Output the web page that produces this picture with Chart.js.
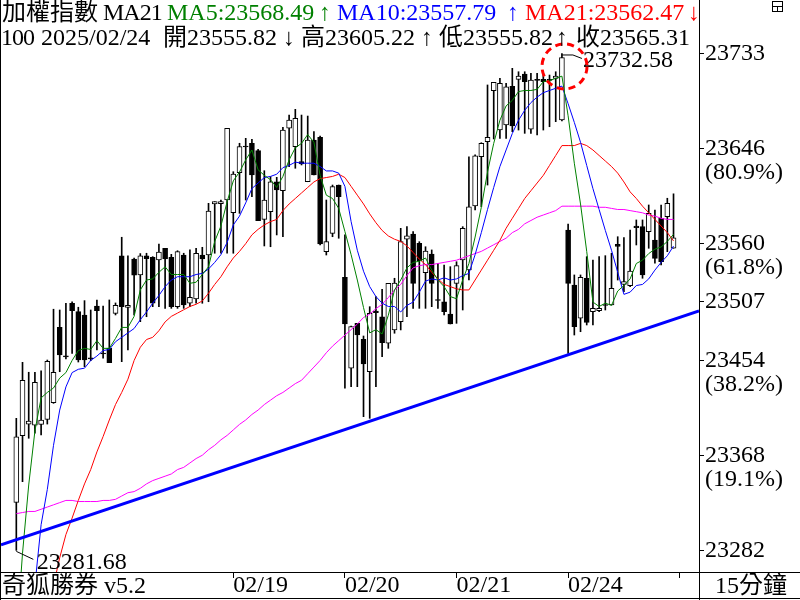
<!DOCTYPE html>
<html>
<head>
<meta charset="utf-8">
<script src="https://cdn.jsdelivr.net/npm/chart.js@4.4.1/dist/chart.umd.min.js"></script>
<style>
  body { margin: 0; background: #fff; }
  #wrap { position: relative; width: 800px; height: 600px; overflow: hidden; background: #fff; }
  #c { position: absolute; left: 0; top: 0; }
  .t { position: absolute; font-family: "Liberation Serif", "Noto Sans CJK TC", serif; font-size: 24px; line-height: 24px; white-space: pre; color: #000; }
</style>
</head>
<body>
<div id="wrap">
  <canvas id="c" width="800" height="600"></canvas>
  <!-- 標題列 -->
  <div class="t" style="left:2px;top:0">加權指數</div>
  <div class="t" style="left:103px;top:0;letter-spacing:-1px">MA21</div>
  <div class="t" style="left:167px;top:0;color:#008000">MA5:23568.49</div>
  <div class="t" style="left:319px;top:0;color:#008000">↑</div>
  <div class="t" style="left:337px;top:0;color:#0000FF">MA10:23557.79</div>
  <div class="t" style="left:507px;top:0;color:#0000FF">↑</div>
  <div class="t" style="left:525px;top:0;color:#FF0000">MA21:23562.47</div>
  <div class="t" style="left:688px;top:0;color:#FF0000">↓</div>

  <div class="t" style="left:1px;top:25px;letter-spacing:-1px">100</div>
  <div class="t" style="left:41px;top:25px">2025/02/24</div>
  <div class="t" style="left:163px;top:25px">開23555.82</div>
  <div class="t" style="left:283px;top:25px">↓</div>
  <div class="t" style="left:301px;top:25px">高23605.22</div>
  <div class="t" style="left:421px;top:25px">↑</div>
  <div class="t" style="left:439px;top:25px">低23555.82</div>
  <div class="t" style="left:556px;top:25px">↑</div>
  <div class="t" style="left:576px;top:25px">收23565.31</div>

  <!-- 底部 -->
  <div class="t" style="left:2px;top:573px">奇狐勝券 v5.2</div>
  <div class="t" style="left:715px;top:573px">15分鐘</div>
</div>
<script>
// 15分K 資料
const opens = [23325.3,23385.8,23396.3,23395.4,23396.0,23400.6,23415.7,23484.1,23458.1,23505.9,
  23498.3,23495.3,23456.3,23503.4,23460.8,23465.3,23496.8,23548.9,23502.2,23546.1,
  23531.6,23548.9,23547.6,23545.2,23555.8,23547.6,23502.8,23549.7,23505.9,23509.8,
  23549.7,23549.7,23596.0,23596.3,23599.6,23588.1,23624.4,23648.6,23651.1,23644.4,
  23582.1,23589.0,23616.2,23608.1,23664.7,23648.0,23634.4,23616.2,23654.1,23656.5,
  23552.7,23569.4,23613.2,23529.5,23446.9,23487.7,23473.2,23443.8,23498.9,23493.7,
  23469.6,23481.7,23489.2,23564.0,23568.8,23560.3,23533.6,23550.6,23509.3,23507.1,
  23496.2,23524.0,23545.2,23536.1,23594.2,23638.9,23652.5,23698.8,23663.1,23667.7,
  23702.8,23709.1,23713.9,23663.8,23709.0,23709.1,23709.0,23710.0,23672.2,23572.4,
  23522.5,23492.3,23528.6,23498.3,23499.2,23504.8,23504.3,23559.4,23523.1,23521.8,
  23576.0,23575.4,23570.9,23563.3,23583.0,23584.5,23555.82];
const highs = [23401.5,23452.3,23443.3,23443.3,23444.5,23454.4,23500.5,23499.8,23505.9,23507.3,
  23502.3,23508.3,23499.8,23508.9,23503.4,23508.9,23506.2,23565.8,23548.9,23547.0,
  23551.0,23551.3,23548.2,23559.7,23555.8,23550.3,23553.6,23551.3,23554.3,23555.8,
  23556.7,23596.6,23598.1,23599.6,23664.7,23625.3,23651.1,23655.6,23654.7,23645.6,
  23626.2,23620.8,23620.2,23665.6,23676.7,23681.9,23676.7,23675.8,23661.6,23657.7,
  23599.6,23613.2,23613.2,23567.9,23485.3,23487.7,23476.2,23502.8,23511.9,23518.6,
  23524.0,23528.6,23573.9,23575.4,23570.9,23561.8,23557.2,23554.3,23542.2,23540.6,
  23539.1,23543.6,23575.4,23638.9,23640.5,23651.6,23704.0,23706.4,23710.0,23705.5,
  23719.1,23716.0,23716.0,23714.6,23714.6,23714.6,23713.0,23716.0,23732.58,23577.8,
  23531.6,23531.6,23548.2,23545.2,23548.2,23549.1,23551.3,23566.3,23565.4,23572.4,
  23581.5,23581.5,23595.1,23590.5,23595.1,23601.2,23605.22];
const lows = [23281.68,23344.0,23383.4,23388.0,23386.5,23396.3,23415.1,23443.8,23455.4,23460.5,
  23452.6,23448.4,23453.8,23463.5,23456.0,23452.0,23495.3,23452.9,23463.5,23495.3,
  23489.2,23493.7,23502.8,23502.8,23501.3,23501.3,23501.3,23501.3,23502.8,23505.9,
  23505.9,23507.3,23551.3,23551.3,23551.3,23551.3,23587.5,23599.6,23602.6,23580.8,
  23557.9,23557.2,23567.9,23566.3,23629.8,23628.4,23631.4,23616.2,23622.3,23558.8,
  23549.7,23566.3,23564.9,23428.8,23430.2,23430.2,23403.0,23401.5,23430.2,23457.4,
  23465.0,23478.7,23481.7,23493.7,23501.3,23501.3,23501.3,23502.8,23501.3,23495.3,
  23487.1,23487.7,23499.8,23527.0,23590.5,23593.5,23613.2,23655.0,23655.6,23655.6,
  23661.6,23663.1,23660.1,23660.1,23658.6,23663.1,23666.1,23670.7,23671.3,23460.5,
  23477.1,23480.1,23486.2,23486.2,23498.3,23499.8,23504.3,23527.0,23516.4,23520.9,
  23558.8,23528.6,23555.8,23542.2,23540.6,23552.7,23555.82];
const closes = [23384.8,23436.0,23399.0,23434.2,23399.9,23453.2,23443.3,23459.0,23457.2,23499.2,
  23454.4,23454.4,23455.4,23499.2,23459.9,23452.0,23504.1,23502.8,23504.1,23531.3,
  23548.9,23546.4,23505.9,23552.4,23546.1,23502.8,23552.7,23504.3,23511.3,23551.3,
  23546.1,23589.6,23598.1,23598.1,23664.7,23623.2,23648.0,23647.7,23622.3,23580.8,
  23599.6,23616.2,23608.7,23663.1,23672.2,23673.8,23632.3,23654.1,23622.3,23559.7,
  23561.8,23611.7,23602.6,23487.1,23484.7,23477.1,23450.8,23496.8,23497.3,23470.1,
  23524.0,23524.3,23561.8,23567.0,23524.0,23544.5,23553.3,23524.0,23508.4,23498.3,
  23487.1,23540.0,23573.9,23593.5,23639.6,23651.1,23656.5,23706.4,23705.5,23702.2,
  23666.8,23712.1,23707.0,23708.5,23708.1,23707.0,23708.1,23712.1,23728.9,23524.0,
  23484.7,23529.5,23488.6,23501.3,23501.3,23503.9,23519.5,23557.6,23525.5,23535.2,
  23574.5,23531.6,23587.5,23546.7,23543.6,23596.6,23565.31];

// 均線
const ma5 = [23200,23279,23341,23390,23420,23425,23429,23438,23443,23454,
  23463,23465,23464,23472,23465,23465,23474,23484,23484,23494,
  23518,23527,23528,23534,23539,23532,23532,23532,23524,23525,
  23532,23539,23562,23576,23598,23617,23625,23636,23645,23627,
  23622,23618,23611,23621,23636,23647,23651,23659,23652,23622,
  23604,23601,23592,23571,23550,23527,23502,23479,23482,23478,
  23495,23518,23527,23538,23543,23544,23547,23536,23527,23521,
  23512,23510,23527,23542,23566,23593,23625,23651,23672,23685,
  23690,23698,23699,23699,23700,23707,23708,23710,23712,23676,
  23633,23596,23553,23507,23503,23506,23504,23517,23522,23528,
  23542,23545,23551,23555,23557,23562,23568.49];
const ma10 = [23110,23164,23200,23250,23305,23337,23377,23409,23430,23443,
  23446,23447,23454,23458,23463,23464,23471,23475,23479,23483,
  23491,23498,23506,23513,23521,23527,23530,23530,23530,23532,
  23533,23537,23543,23550,23561,23577,23585,23597,23610,23615,
  23620,23621,23623,23629,23631,23634,23633,23633,23633,23630,
  23626,23626,23624,23612,23580,23554,23535,23521,23512,23506,
  23503,23503,23498,23504,23507,23516,23526,23528,23527,23529,
  23527,23528,23531,23533,23550,23570,23591,23611,23630,23645,
  23660,23672,23681,23688,23693,23697,23699,23701,23703,23687,
  23670,23652,23631,23610,23591,23572,23554,23534,23514,23516,
  23522,23523,23528,23536,23543,23549,23557.79];
const ma21 = [23105,23130,23153,23178,23202,23228,23250,23275,23296,23311,
  23327,23342,23355,23371,23385,23400,23414,23425,23437,23454,
  23466,23473,23475,23481,23489,23494,23497,23500,23503,23505,
  23508,23515,23523,23530,23539,23547,23553,23560,23568,23573,
  23577,23580,23582,23590,23596,23601,23606,23611,23616,23619,
  23620,23621,23623,23620,23612,23604,23596,23587,23579,23572,
  23567,23564,23562,23558,23552,23546,23541,23534,23528,23523,
  23521,23519,23518,23518,23527,23536,23545,23554,23563,23574,
  23583,23592,23601,23608,23615,23622,23631,23640,23649,23649,
  23649,23651,23649,23645,23640,23635,23630,23624,23616,23607,
  23601,23594,23588,23582,23576,23570,23562.47];
const maLong = [23315,23316,23317,23317,23319,23321,23323,23325,23327,23327,
  23326,23326,23326,23326,23327,23327,23328,23331,23334,23335,
  23338,23342,23345,23347,23349,23351,23355,23357,23361,23365,
  23368,23373,23377,23382,23386,23391,23396,23400,23405,23409,
  23414,23418,23422,23425,23429,23433,23436,23442,23448,23454,
  23461,23467,23472,23477,23482,23487,23493,23496,23501,23505,
  23511,23518,23523,23531,23538,23540,23541,23541,23542,23543,
  23544,23545,23547,23549,23551,23553,23556,23559,23562,23565,
  23570,23573,23578,23581,23584,23586,23588,23590,23594,23594,
  23594,23594,23594,23594,23593,23593,23592,23591,23591,23590,
  23589,23588,23586,23585,23583,23582,23582];

// 趨勢線 (兩端點)
const trendX = [-2.47, 110.11];
const trendY = [23286.8, 23498.9];

// 座標軸
const dayStarts = [35, 53, 71, 89, 107];
const dayLabels = ['02/19', '02/20', '02/21', '02/24', ''];
const yTickValues = [23281.68, 23367.80, 23453.92, 23507.13, 23560.33, 23646.45, 23732.58];
const yTickLabels = ['23282', '23368', '23454', '23507', '23560', '23646', '23733'];
const yTickNotes = ['', '(19.1%)', '(38.2%)', '', '(61.8%)', '(80.9%)', ''];

const FONT = '"Liberation Serif", "Noto Sans CJK TC", serif';

const idx = opens.map((_, i) => i);
const bodies = idx.map(i => ({ x: i, y: [opens[i], closes[i]] }));
const wicks = idx.map(i => ({ x: i, y: [lows[i], highs[i]] }));
const bodyColors = idx.map(i => closes[i] >= opens[i] ? '#FFFFFF' : '#000000');
const pts = arr => arr.map((v, i) => ({ x: i, y: v }));

const hiIdx = highs.indexOf(Math.max(...highs));
const loIdx = lows.indexOf(Math.min(...lows));

// 外框、最高最低標示、紅圈
const overlay = {
  id: 'overlay',
  afterDraw(chart) {
    const { ctx } = chart;
    const { x, y } = chart.scales;
    ctx.save();
    ctx.strokeStyle = '#000';
    ctx.lineWidth = 1;
    ctx.setLineDash([]);
    ctx.beginPath();
    ctx.moveTo(0.5, 0); ctx.lineTo(0.5, 600);
    ctx.moveTo(699.5, 0); ctx.lineTo(699.5, 600);
    ctx.moveTo(0, 572.5); ctx.lineTo(800, 572.5);
    ctx.moveTo(0, 598.5); ctx.lineTo(800, 598.5);
    ctx.stroke();

    // 右上角小圖示
    ctx.strokeRect(772.5, 1.5, 10, 10);
    ctx.beginPath();
    ctx.moveTo(772.5, 6.5); ctx.lineTo(782.5, 6.5);
    ctx.moveTo(777.5, 6.5); ctx.lineTo(777.5, 11.5);
    ctx.stroke();

    ctx.font = '24px ' + FONT;
    ctx.fillStyle = '#000';
    ctx.textBaseline = 'alphabetic';

    // 最高
    const hx = x.getPixelForValue(hiIdx), hy = y.getPixelForValue(highs[hiIdx]);
    ctx.beginPath();
    ctx.moveTo(hx, hy + 1.5); ctx.lineTo(hx + 11, hy + 1.5); ctx.lineTo(hx + 20, hy + 5);
    ctx.stroke();
    ctx.fillText(highs[hiIdx].toFixed(2), hx + 21, hy + 14);

    // 最低
    const lx = x.getPixelForValue(loIdx), ly = y.getPixelForValue(lows[loIdx]);
    ctx.beginPath();
    ctx.moveTo(lx, ly + 1); ctx.lineTo(lx + 17, ly + 9);
    ctx.stroke();
    ctx.fillText(lows[loIdx].toFixed(2), lx + 20.5, ly + 19);

    // 紅色虛線圈
    ctx.strokeStyle = '#FF0000';
    ctx.lineWidth = 3;
    ctx.setLineDash([7, 5]);
    ctx.beginPath();
    ctx.arc(hx + 2.6, hy + 13, 22.5, 0, Math.PI * 2);
    ctx.stroke();
    ctx.restore();
  }
};

const lineDs = (label, arr, color, width, order) => ({
  type: 'line', label, data: arr, borderColor: color, borderWidth: width,
  pointRadius: 0, tension: 0, fill: false, order
});

const noPad = s => { s.paddingTop = 0; s.paddingBottom = 0; s.paddingLeft = 0; s.paddingRight = 0; };

new Chart(document.getElementById('c'), {
  type: 'bar',
  data: {
    datasets: [
      lineDs('趨勢線', trendX.map((v, i) => ({ x: v, y: trendY[i] })), '#0000FF', 3, 0),
      lineDs('MA5', pts(ma5), '#008000', 1, 1),
      lineDs('MA10', pts(ma10), '#0000FF', 1, 1),
      lineDs('MA21', pts(ma21), '#FF0000', 1, 1),
      lineDs('MA', pts(maLong), '#FF00FF', 1, 1),
      {
        type: 'bar', label: 'body', data: bodies, backgroundColor: bodyColors,
        borderColor: '#000', borderWidth: 1, borderSkipped: false,
        barThickness: 5, grouped: false, minBarLength: 1, order: 2
      },
      {
        type: 'bar', label: 'wick', data: wicks, backgroundColor: '#000',
        borderWidth: 0, barThickness: 1, grouped: false, order: 3
      }
    ]
  },
  options: {
    responsive: false,
    animation: false,
    devicePixelRatio: 1,
    layout: { padding: { left: 1, top: 0, right: 0, bottom: 0 } },
    plugins: { legend: { display: false }, tooltip: { enabled: false } },
    scales: {
      x: {
        type: 'linear', min: -2.47, max: 110.11, offset: false,
        afterBuildTicks: s => { s.ticks = dayStarts.map(v => ({ value: v })); },
        afterFit: s => { s.height = 28; noPad(s); },
        grid: { drawOnChartArea: false, drawTicks: true, tickLength: 6, color: '#000', offset: false },
        border: { display: false },
        ticks: {
          autoSkip: false, maxRotation: 0, minRotation: 0, align: 'start', padding: -4,
          color: '#000', font: { family: FONT, size: 24, lineHeight: 1 },
          callback: (v, i) => dayLabels[i]
        }
      },
      y: {
        position: 'right', min: 23262.05, max: 23781.1,
        afterBuildTicks: s => { s.ticks = yTickValues.map(v => ({ value: v })); },
        afterFit: s => { s.width = 101; noPad(s); },
        grid: { drawOnChartArea: false, drawTicks: true, tickLength: 5, color: '#000' },
        border: { display: false },
        ticks: {
          autoSkip: false, padding: 1, color: '#000',
          font: { family: FONT, size: 24, lineHeight: 1 },
          callback: (v, i) => yTickNotes[i] ? ['', yTickLabels[i], yTickNotes[i]] : yTickLabels[i]
        }
      }
    }
  },
  plugins: [overlay]
});
</script>
</body>
</html>
